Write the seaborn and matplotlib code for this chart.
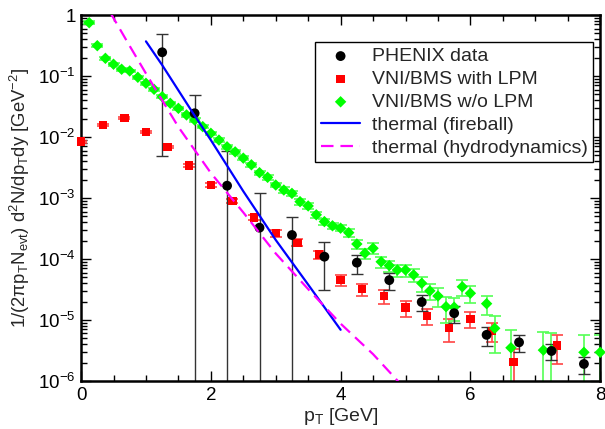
import numpy as np
import matplotlib
matplotlib.use('Agg')
import matplotlib.pyplot as plt
import seaborn as sns
from matplotlib.ticker import LogLocator, NullFormatter, MultipleLocator

# PHENIX data (black circles), relative errors
phenix_pt = [1.25, 1.75, 2.25, 2.75, 3.25, 3.75, 4.25, 4.75, 5.25, 5.75, 6.25, 6.75, 7.25, 7.75]
phenix_y = [0.245, 0.0245, 1.59e-3, 3.26e-4, 2.47e-4, 1.09e-4, 8.7e-5, 4.5e-5,
            1.97e-5, 1.29e-5, 5.7e-6, 4.3e-6, 3.1e-6, 1.9e-6]
phenix_rel = [0.98, 1.0, 2.65, 2.7, 1.0, 0.72, 0.36, 0.31, 0.28, 0.3, 0.34, 0.3, 0.3, 0.32]

# VNI/BMS with LPM (red squares)
lpm_pt = [0.0, 0.333, 0.667, 1.0, 1.333, 1.667, 2.0, 2.333, 2.667, 3.0, 3.333, 3.667,
          4.0, 4.333, 4.667, 5.0, 5.333, 5.667, 6.0, 6.333, 6.667, 7.333]
lpm_y = [8.4e-3, 0.0157, 0.0203, 0.0121, 6.9e-3, 3.4e-3, 1.63e-3, 9.0e-4, 4.8e-4, 2.64e-4,
         1.85e-4, 1.19e-4, 4.5e-5, 3.2e-5, 2.47e-5, 1.6e-5, 1.16e-5, 7.3e-6, 1.04e-5,
         6.6e-6, 2.07e-6, 3.8e-6]
lpm_rel = [0.04, 0.04, 0.04, 0.05, 0.05, 0.06, 0.07, 0.08, 0.1, 0.12, 0.13, 0.15,
           0.2, 0.22, 0.25, 0.3, 0.3, 0.4, 0.3, 0.35, 0.6, 0.5]

# VNI/BMS w/o LPM (green diamonds)
wo_pt = [0.125, 0.25, 0.375, 0.5, 0.625, 0.75, 0.875, 1.0, 1.125, 1.25, 1.375, 1.5,
         1.625, 1.75, 1.875, 2.0, 2.125, 2.25, 2.375, 2.5, 2.625, 2.75, 2.875, 3.0,
         3.125, 3.25, 3.375, 3.5, 3.625, 3.75, 3.875, 4.0, 4.125, 4.25, 4.375, 4.5,
         4.625, 4.75, 4.875, 5.0, 5.125, 5.25, 5.375, 5.5, 5.625, 5.75, 5.875, 6.0,
         6.25, 6.375, 6.625, 7.125, 7.25, 7.75, 8.0]
wo_y = [0.748, 0.314, 0.195, 0.156, 0.129, 0.121, 0.0953, 0.076, 0.0605, 0.0458, 0.0357,
        0.0295, 0.023, 0.019, 0.0148, 0.0115, 8.9e-3, 6.9e-3, 5.7e-3, 4.5e-3, 3.5e-3,
        2.6e-3, 2.18e-3, 1.63e-3, 1.35e-3, 1.19e-3, 8.7e-4, 7.4e-4, 5.3e-4, 4.1e-4,
        3.5e-4, 3.2e-4, 2.7e-4, 1.76e-4, 1.24e-4, 1.5e-4, 9.0e-5, 7.8e-5, 6.6e-5, 6.6e-5,
        5.5e-5, 4.0e-5, 3.0e-5, 2.47e-5, 1.65e-5, 1.62e-5, 3.5e-5, 2.74e-5,
        1.85e-5, 7.3e-6, 3.5e-6, 3.2e-6, 3.2e-6, 2.95e-6, 2.95e-6]
wo_rel = [0.05] * 8 + [0.06] * 8 + [0.08] * 8 + [0.11] * 8 + \
         [0.15, 0.17, 0.18, 0.2, 0.2, 0.21, 0.22, 0.22,
          0.25, 0.27, 0.3, 0.33, 0.46, 0.4, 0.3, 0.3,
          0.35, 0.6, 0.95, 0.95, 0.9, 0.9, 0.9]

# thermal curves
fb_pt = [1.0, 1.25, 1.75, 2.0, 2.5, 3.0, 3.5, 4.0]
fb_y = [0.37, 0.151, 0.0224, 8.9e-3, 1.29e-3, 2.05e-4, 3.8e-5, 6.9e-6]
hy_pt = [0.45, 0.75, 1.0, 1.5, 2.0, 2.5, 3.0, 3.5, 4.0, 4.5, 4.9]
hy_y = [1.1, 0.31, 0.11, 0.0146, 2.57e-3, 5.8e-4, 1.23e-4, 3.2e-5, 8.7e-6, 2.75e-6, 9.5e-7]

ytick_vals = [1e-6, 1e-5, 1e-4, 1e-3, 1e-2, 1e-1, 1]
ytick_labels = ['$10^{-6}$', '$10^{-5}$', '$10^{-4}$', '$10^{-3}$', '$10^{-2}$', '$10^{-1}$', '1']

sns.set_style('ticks')
plt.rcParams['font.family'] = ['Liberation Sans', 'DejaVu Sans']
plt.rcParams['mathtext.fontset'] = 'custom'
plt.rcParams['mathtext.rm'] = 'Liberation Sans'
plt.rcParams['mathtext.it'] = 'Liberation Sans:italic'
plt.rcParams['mathtext.default'] = 'regular'
plt.rcParams['lines.scale_dashes'] = False

fig = plt.figure(figsize=(6.05, 4.29), dpi=100)
ax = fig.add_axes([0.134, 0.112, 0.858, 0.853])
ax.set_yscale('log')

# error bars
ax.errorbar(lpm_pt, lpm_y, yerr=np.array(lpm_rel) * np.array(lpm_y), fmt='none',
            ecolor='#ff4444', elinewidth=1.2, capsize=4, capthick=1.2, zorder=2)
ax.errorbar(wo_pt, wo_y, yerr=np.array(wo_rel) * np.array(wo_y), fmt='none',
            ecolor='#55ff55', elinewidth=1.2, capsize=4, capthick=1.2, zorder=2)
ax.errorbar(phenix_pt, phenix_y, yerr=np.array(phenix_rel) * np.array(phenix_y), fmt='none',
            ecolor='#333333', elinewidth=1.0, capsize=4, capthick=1.0, zorder=2)

sns.scatterplot(x=lpm_pt, y=lpm_y, marker='s', s=36, color='#ff0000', edgecolor='none',
                label='VNI/BMS with LPM', ax=ax, zorder=3, clip_on=False)
sns.scatterplot(x=wo_pt, y=wo_y, marker='D', s=34, color='#00ff00', edgecolor='none',
                label='VNI/BMS w/o LPM', ax=ax, zorder=3, clip_on=False)
sns.scatterplot(x=phenix_pt, y=phenix_y, marker='o', s=50, color='black', edgecolor='none',
                label='PHENIX data', ax=ax, zorder=4)

sns.lineplot(x=fb_pt, y=fb_y, color='#0000ff', lw=1.6, sort=False, estimator=None,
             label='thermal (fireball)', ax=ax, zorder=5)
sns.lineplot(x=hy_pt, y=hy_y, color='#ff00ff', lw=1.6, sort=False, estimator=None,
             label='thermal (hydrodynamics)', ax=ax, zorder=5)
ax.lines[-1].set_dashes([9, 5])

ax.set_xlim(0, 8)
ax.set_ylim(1e-6, 1)
ax.xaxis.set_major_locator(MultipleLocator(2))
ax.xaxis.set_minor_locator(MultipleLocator(0.5))
ax.set_yticks(ytick_vals, ytick_labels)
ax.yaxis.set_minor_locator(LogLocator(base=10, subs=np.arange(2, 10)))
ax.yaxis.set_minor_formatter(NullFormatter())
ax.tick_params(which='both', direction='in', top=True, right=True, width=1, colors='black')
ax.tick_params(which='major', length=7, labelsize=13.5, pad=4)
ax.tick_params(which='minor', length=4)
for sp in ax.spines.values():
    sp.set_linewidth(1.8)
    sp.set_color('black')

ax.set_xlabel('p$_T$ [GeV]', fontsize=14, labelpad=2)
ax.set_ylabel('1/(2πp$_T$N$_{evt}$) d$^2$N/dp$_T$dy [GeV$^{-2}$]', fontsize=13.3, labelpad=4)

handles, labels = ax.get_legend_handles_labels()
order = ['PHENIX data', 'VNI/BMS with LPM', 'VNI/BMS w/o LPM', 'thermal (fireball)',
         'thermal (hydrodynamics)']
hmap = dict(zip(labels, handles))
leg = ax.legend([hmap[k] for k in order], order, loc='upper right',
                bbox_to_anchor=(0.987, 0.927), borderaxespad=0, fontsize=14,
                fancybox=False, edgecolor='black', framealpha=1, labelspacing=0.27,
                handlelength=2.0, handletextpad=0.6, borderpad=0.3)
leg.get_frame().set_linewidth(1.0)

fig.savefig('out.png', dpi=100)
